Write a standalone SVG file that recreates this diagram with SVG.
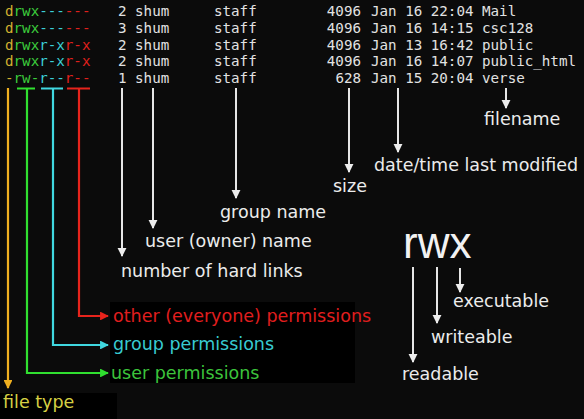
<svg xmlns="http://www.w3.org/2000/svg" width="584" height="419" viewBox="0 0 584 419">
<defs>
<style>
.ls{font-family:"DejaVu Sans Mono","Liberation Mono",monospace;font-size:14.2px;fill:#e2e2e2}
.lab{font-family:"DejaVu Sans","Liberation Sans",sans-serif;font-size:17.5px;fill:#ececec}
.ty{fill:#d4b030}.gr{fill:#3ccc3c}.cy{fill:#3ccfd6}.rd{fill:#e0201c}
.w{stroke:#e6e6e6;stroke-width:2;fill:none}
</style>
<marker id="aw" viewBox="0 0 10 10" refX="9" refY="5" markerWidth="4.5" markerHeight="5" orient="auto" markerUnits="strokeWidth"><path d="M0,0 L10,5 L0,10 z" fill="#ededed"/></marker>
<marker id="ar" viewBox="0 0 10 10" refX="9" refY="5" markerWidth="4" markerHeight="4" orient="auto" markerUnits="strokeWidth"><path d="M0,0 L10,5 L0,10 z" fill="#e8241c"/></marker>
<marker id="ac" viewBox="0 0 10 10" refX="9" refY="5" markerWidth="4" markerHeight="4" orient="auto" markerUnits="strokeWidth"><path d="M0,0 L10,5 L0,10 z" fill="#40d8e0"/></marker>
<marker id="ag" viewBox="0 0 10 10" refX="9" refY="5" markerWidth="4" markerHeight="4" orient="auto" markerUnits="strokeWidth"><path d="M0,0 L10,5 L0,10 z" fill="#30e030"/></marker>
<marker id="ay" viewBox="0 0 10 10" refX="9" refY="5" markerWidth="4" markerHeight="4" orient="auto" markerUnits="strokeWidth"><path d="M0,0 L10,5 L0,10 z" fill="#f0b020"/></marker>
</defs>
<rect width="584" height="419" fill="#0b0b0b"/>
<rect x="110" y="302" width="245" height="81" fill="#000"/>
<rect x="0" y="393" width="117" height="26" fill="#000"/>

<g id="listing">
<text class="ls" y="16"><tspan x="5" class="ty">d</tspan><tspan class="gr">rwx</tspan><tspan class="cy">---</tspan><tspan class="rd">---</tspan><tspan x="118">2 shum</tspan><tspan x="214">staff</tspan><tspan x="361" text-anchor="end">4096</tspan><tspan x="371">Jan 16 22:04 Mail</tspan></text>
<text class="ls" y="33"><tspan x="5" class="ty">d</tspan><tspan class="gr">rwx</tspan><tspan class="cy">---</tspan><tspan class="rd">---</tspan><tspan x="118">3 shum</tspan><tspan x="214">staff</tspan><tspan x="361" text-anchor="end">4096</tspan><tspan x="371">Jan 16 14:15 csc128</tspan></text>
<text class="ls" y="49.5"><tspan x="5" class="ty">d</tspan><tspan class="gr">rwx</tspan><tspan class="cy">r-x</tspan><tspan class="rd">r-x</tspan><tspan x="118">2 shum</tspan><tspan x="214">staff</tspan><tspan x="361" text-anchor="end">4096</tspan><tspan x="371">Jan 13 16:42 public</tspan></text>
<text class="ls" y="66"><tspan x="5" class="ty">d</tspan><tspan class="gr">rwx</tspan><tspan class="cy">r-x</tspan><tspan class="rd">r-x</tspan><tspan x="118">2 shum</tspan><tspan x="214">staff</tspan><tspan x="361" text-anchor="end">4096</tspan><tspan x="371">Jan 16 14:07 public_html</tspan></text>
<text class="ls" y="83"><tspan x="5" class="ty">-</tspan><tspan class="gr">rw-</tspan><tspan class="cy">r--</tspan><tspan class="rd">r--</tspan><tspan x="118">1 shum</tspan><tspan x="214">staff</tspan><tspan x="361" text-anchor="end">628</tspan><tspan x="371">Jan 15 20:04 verse</tspan></text>
</g>

<g id="connectors">
<path class="w" d="M122,88 V256" marker-end="url(#aw)"/>
<path class="w" d="M153,88 V228" marker-end="url(#aw)"/>
<path class="w" d="M236,88 V198" marker-end="url(#aw)"/>
<path class="w" d="M349,88 V172" marker-end="url(#aw)"/>
<path class="w" d="M398,88 V152" marker-end="url(#aw)"/>
<path class="w" d="M506,88 V108" marker-end="url(#aw)"/>
<path class="w" d="M413,267 V362" marker-end="url(#aw)"/>
<path class="w" d="M437,267 V323" marker-end="url(#aw)"/>
<path class="w" d="M460,268 V292" marker-end="url(#aw)"/>
<path d="M8,88 V388" stroke="#f0b020" stroke-width="2.2" fill="none" marker-end="url(#ay)"/>
<path d="M17,88.5 H35 M27,88 V373 H108" stroke="#30e030" stroke-width="2.2" fill="none" marker-end="url(#ag)"/>
<path d="M41,88.5 H63 M53,88 V345 H108" stroke="#40d8e0" stroke-width="2.2" fill="none" marker-end="url(#ac)"/>
<path d="M67,88.5 H90 M79,88 V316 H108" stroke="#e8241c" stroke-width="2.2" fill="none" marker-end="url(#ar)"/>
</g>

<g id="filename"><text class="lab" x="484" y="125">filename</text></g>
<g id="datetime"><text class="lab" x="374" y="171">date/time last modified</text></g>
<g id="size"><text class="lab" x="333" y="192">size</text></g>
<g id="groupname"><text class="lab" x="220" y="218">group name</text></g>
<g id="username"><text class="lab" x="145" y="247">user (owner) name</text></g>
<g id="hardlinks"><text class="lab" x="121" y="277">number of hard links</text></g>
<g id="other"><text class="lab" x="113" y="322" style="fill:#e01e1e">other (everyone) permissions</text></g>
<g id="group"><text class="lab" x="113" y="350" style="fill:#38cbd2">group permissions</text></g>
<g id="user"><text class="lab" x="111" y="379" style="fill:#3cc43c">user permissions</text></g>
<g id="filetype"><text class="lab" x="3" y="408" style="fill:#d6d044">file type</text></g>
<g id="rwx"><text x="403" y="258" style="font-family:'Liberation Sans',Arial,sans-serif;font-size:44px;fill:#f2f2f2">rwx</text></g>
<g id="executable"><text class="lab" x="453" y="307">executable</text></g>
<g id="writeable"><text class="lab" x="431" y="343">writeable</text></g>
<g id="readable"><text class="lab" x="402" y="380">readable</text></g>
</svg>
